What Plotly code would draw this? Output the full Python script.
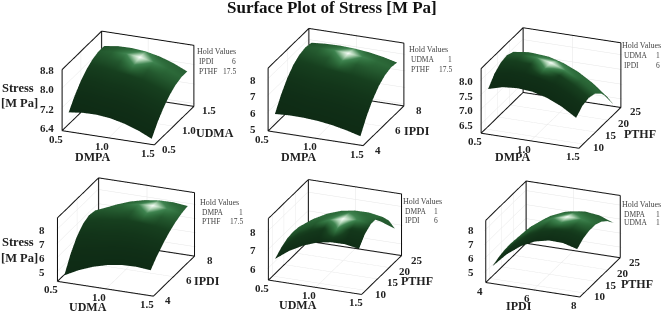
import plotly.graph_objects as go

W, H = 669, 314
DMPA = [0.55, 0.70, 0.85, 1.0, 1.15, 1.30, 1.45]
UDMA = [0.55, 0.70, 0.85, 1.0, 1.15, 1.30, 1.45]
IPDI = [4.2, 4.8, 5.4, 6.0, 6.6, 7.2, 7.8]
PTHF = [8.85, 11.4, 13.95, 16.5, 19.05, 21.6, 24.15]

Z1 = [[7.00, 7.07, 7.08, 7.02, 6.89, 6.70, 6.44],
      [7.44, 7.51, 7.52, 7.46, 7.34, 7.14, 6.89],
      [7.79, 7.87, 7.87, 7.82, 7.69, 7.50, 7.24],
      [8.05, 8.13, 8.14, 8.08, 7.96, 7.77, 7.51],
      [8.22, 8.30, 8.31, 8.26, 8.13, 7.95, 7.69],
      [8.31, 8.38, 8.40, 8.34, 8.22, 8.03, 7.78],
      [8.30, 8.38, 8.39, 8.34, 8.22, 8.03, 7.78]]
Z2 = [[5.85, 5.90, 5.89, 5.83, 5.71, 5.53, 5.30],
      [6.65, 6.71, 6.70, 6.64, 6.53, 6.36, 6.13],
      [7.28, 7.33, 7.33, 7.28, 7.17, 7.00, 6.78],
      [7.73, 7.79, 7.79, 7.74, 7.63, 7.47, 7.25],
      [7.99, 8.06, 8.07, 8.02, 7.92, 7.76, 7.54],
      [8.09, 8.16, 8.17, 8.12, 8.03, 7.87, 7.66],
      [8.00, 8.07, 8.09, 8.05, 7.96, 7.81, 7.60]]
Z3 = [[7.68, 7.82, 7.86, 7.82, 7.69, 7.47, 7.16],
      [7.99, 8.11, 8.14, 8.07, 7.93, 7.69, 7.36],
      [8.16, 8.26, 8.27, 8.19, 8.03, 7.77, 7.42],
      [8.21, 8.29, 8.28, 8.18, 7.99, 7.72, 7.36],
      [8.11, 8.18, 8.15, 8.03, 7.83, 7.54, 7.15],
      [7.89, 7.93, 7.89, 7.75, 7.53, 7.22, 6.82],
      [7.53, 7.56, 7.49, 7.34, 7.10, 6.77, 6.35]]
Z4 = [[4.70, 5.22, 5.62, 5.90, 6.06, 6.09, 6.00],
      [5.77, 6.21, 6.52, 6.71, 6.78, 6.73, 6.56],
      [6.56, 6.94, 7.20, 7.34, 7.36, 7.25, 7.02],
      [7.05, 7.41, 7.66, 7.78, 7.77, 7.65, 7.40],
      [7.26, 7.63, 7.89, 8.02, 8.03, 7.92, 7.69],
      [7.17, 7.60, 7.90, 8.08, 8.14, 8.08, 7.89],
      [6.80, 7.31, 7.69, 7.95, 8.09, 8.11, 8.00]]
Z5 = [[6.47, 7.01, 7.41, 7.69, 7.82, 7.83, 7.70],
      [6.75, 7.33, 7.76, 8.07, 8.24, 8.28, 8.18],
      [6.93, 7.51, 7.95, 8.27, 8.45, 8.50, 8.41],
      [6.99, 7.56, 7.99, 8.29, 8.46, 8.50, 8.40],
      [6.94, 7.47, 7.87, 8.14, 8.27, 8.28, 8.15],
      [6.77, 7.25, 7.60, 7.81, 7.89, 7.83, 7.65],
      [6.50, 6.90, 7.17, 7.30, 7.30, 7.17, 6.90]]
Z6 = [[5.35, 6.35, 7.09, 7.58, 7.81, 7.78, 7.50],
      [5.56, 6.58, 7.34, 7.85, 8.10, 8.10, 7.84],
      [5.68, 6.70, 7.47, 7.99, 8.25, 8.25, 7.99],
      [5.71, 6.73, 7.49, 7.99, 8.24, 8.24, 7.98],
      [5.65, 6.65, 7.38, 7.87, 8.09, 8.06, 7.78],
      [5.51, 6.46, 7.16, 7.60, 7.79, 7.73, 7.40],
      [5.27, 6.17, 6.82, 7.21, 7.35, 7.23, 6.85]]

ROWS_BACK = [0.05, 0.10, 0.18, 0.30, 0.45, 0.55, 0.50]
ROWS_RIDGE = [0.05, 0.12, 0.30, 0.50, 0.55, 0.50, 0.40]
ROWS_ARCH = [0.08, 0.20, 0.45, 0.55, 0.55, 0.50, 0.45]
COL_SHADE = [0.80, 0.90, 1.0, 1.0, 1.0, 1.0, 0.95]

panels = [
    dict(x=DMPA, y=UDMA, z=Z1, xr=[0.5, 1.5], yr=[0.5, 1.5], zr=[6.3, 8.8],
         xt=[0.5, 1.0, 1.5], yt=[0.5, 1.0, 1.5], zt=[6.4, 7.2, 8.0, 8.8], c=(128, 88), s=1.0,
         rows=ROWS_BACK, spot=(3, 5)),
    dict(x=DMPA, y=IPDI, z=Z2, xr=[0.5, 1.5], yr=[4, 8], zr=[4.9, 8.7],
         xt=[0.5, 1.0, 1.5], yt=[4, 6, 8], zt=[5, 6, 7, 8], c=(336, 87), s=1.03,
         rows=ROWS_BACK, spot=(3, 5)),
    dict(x=DMPA, y=PTHF, z=Z3, xr=[0.5, 1.5], yr=[8, 25], zr=[6.22, 8.42],
         xt=[0.5, 1.0, 1.5], yt=[10, 15, 20, 25], zt=[6.5, 7.0, 7.5, 8.0], c=(551, 88), s=1.06,
         rows=ROWS_RIDGE, spot=(3, 3)),
    dict(x=UDMA, y=IPDI, z=Z4, xr=[0.5, 1.5], yr=[4, 8], zr=[4.36, 8.86],
         xt=[0.5, 1.0, 1.5], yt=[4, 6, 8], zt=[5, 6, 7, 8], c=(126, 237), s=1.04,
         rows=ROWS_BACK, spot=(4, 5)),
    dict(x=UDMA, y=PTHF, z=Z5, xr=[0.5, 1.5], yr=[8, 25], zr=[5.4, 8.7],
         xt=[0.5, 1.0, 1.5], yt=[10, 15, 20, 25], zt=[6, 7, 8], c=(335, 237), s=1.01,
         rows=ROWS_ARCH, spot=(4, 2)),
    dict(x=IPDI, y=PTHF, z=Z6, xr=[4, 8], yr=[8, 25], zr=[4.27, 8.72],
         xt=[4, 6, 8], yt=[10, 15, 20, 25], zt=[5, 6, 7, 8], c=(553, 239), s=1.02,
         rows=ROWS_ARCH, spot=(4, 3)),
]

SERIF = "Liberation Serif"
SCALE = [[0, "#0d2713"], [0.3, "#17401f"], [0.55, "#2d6b3a"], [0.7, "#3f8450"],
         [0.85, "#a8cfae"], [1, "#fafffa"]]
SW, SH = 210, 150
ASPECT = dict(x=1.35, y=1.456, z=0.90)
EYE = dict(x=1.023, y=-2.571, z=1.161)
PAD = 0.01
SPOT_NEAR = 0.7
fig = go.Figure()


def box_edges(xr, yr, zr):
    x0, x1 = xr; y0, y1 = yr; z0, z1 = zr
    segs = [((x0, y0, z0), (x1, y0, z0)), ((x1, y0, z0), (x1, y1, z0)),
            ((x1, y1, z0), (x0, y1, z0)), ((x0, y1, z0), (x0, y0, z0)),
            ((x0, y0, z0), (x0, y0, z1)), ((x0, y1, z0), (x0, y1, z1)),
            ((x1, y1, z0), (x1, y1, z1)), ((x0, y0, z1), (x0, y1, z1)),
            ((x0, y1, z1), (x1, y1, z1))]
    X, Y, Z = [], [], []
    for a, b in segs:
        X += [a[0], b[0], None]; Y += [a[1], b[1], None]; Z += [a[2], b[2], None]
    return X, Y, Z


def padded(r):
    s = (r[1] - r[0]) * PAD
    return [r[0] - s, r[1] + s]


layout_scenes = {}
for i, p in enumerate(panels, 1):
    name = "scene" if i == 1 else f"scene{i}"
    x0, x1 = p["xr"]; y0, y1 = p["yr"]; z0, z1 = p["zr"]
    shade = [[r * c for c in COL_SHADE] for r in p["rows"]]
    si, sj = p["spot"]
    for di, dj in ((1, 0), (-1, 0), (0, 1), (0, -1)):
        shade[sj + dj][si + di] = SPOT_NEAR
    shade[sj][si] = 1.0
    fig.add_trace(go.Surface(
        x=p["x"], y=p["y"], z=p["z"], surfacecolor=shade, cmin=0, cmax=1,
        scene=name, showscale=False, hoverinfo="skip", colorscale=SCALE,
        lighting=dict(ambient=1.0, diffuse=0.0, specular=0.0, roughness=1.0, fresnel=0.0),
    ))
    X, Y, Z = box_edges(p["xr"], p["yr"], p["zr"])
    fig.add_trace(go.Scatter3d(x=X, y=Y, z=Z, mode="lines", scene=name, showlegend=False,
                               hoverinfo="skip", line=dict(color="#111111", width=2)))
    ax = dict(showbackground=False, showgrid=True, gridcolor="#e6e6e6", gridwidth=1,
              zeroline=False, showline=False, ticks="", title=dict(text=""), showspikes=False,
              showticklabels=False)
    cx, cy = p["c"]
    tick_notes = []
    tf = dict(family=SERIF, size=11, color="#222222")
    for v in p["xt"]:
        tick_notes.append(dict(x=v, y=y0, z=z0, text=f"<b>{v}</b>", showarrow=False,
                               xshift=-6, yshift=-8, font=tf))
    for v in p["yt"]:
        tick_notes.append(dict(x=x1, y=v, z=z0, text=f"<b>{v}</b>", showarrow=False,
                               xshift=15, yshift=-4, font=tf))
    for v in p["zt"]:
        tick_notes.append(dict(x=x0, y=y0, z=v, text=f"<b>{v}</b>", showarrow=False,
                               xshift=-15, yshift=0, font=tf))
    layout_scenes[name] = dict(
        xaxis=dict(ax, range=padded(p["xr"]), tickvals=p["xt"]),
        yaxis=dict(ax, range=padded(p["yr"]), tickvals=p["yt"]),
        zaxis=dict(ax, range=padded(p["zr"]), tickvals=p["zt"]),
        aspectmode="manual",
        aspectratio={k: v * p["s"] for k, v in ASPECT.items()},
        annotations=tick_notes,
        camera=dict(eye=EYE, center=dict(x=0, y=0, z=0),
                    up=dict(x=0, y=0, z=1), projection=dict(type="orthographic")),
        domain=dict(x=[(cx - SW / 2) / W, (cx + SW / 2) / W],
                    y=[1 - (cy + SH / 2) / H, 1 - (cy - SH / 2) / H]),
    )

notes = [
    ("Surface Plot of Stress [M Pa]", 332, 8, 17, True, "#111111", "center"),
    ("Stress", 0, 88, 12.5, True, "#222222", "left"),
    ("[M Pa]", -1, 103, 12.5, True, "#222222", "left"),
    ("Stress", 0, 242, 12.5, True, "#222222", "left"),
    ("[M Pa]", -1, 258, 12.5, True, "#222222", "left"),
    ("DMPA", 92, 157, 12, True, "#222222", "center"),
    ("UDMA", 215, 133, 12, True, "#222222", "center"),
    ("DMPA", 298, 157, 12, True, "#222222", "center"),
    ("IPDI", 417, 131, 12, True, "#222222", "center"),
    ("DMPA", 512, 157, 12, True, "#222222", "center"),
    ("PTHF", 640, 134, 12, True, "#222222", "center"),
    ("UDMA", 88, 307, 12, True, "#222222", "center"),
    ("IPDI", 207, 281, 12, True, "#222222", "center"),
    ("UDMA", 298, 305, 12, True, "#222222", "center"),
    ("PTHF", 417, 281, 12, True, "#222222", "center"),
    ("IPDI", 519, 306, 12, True, "#222222", "center"),
    ("PTHF", 637, 284, 12, True, "#222222", "center"),
]
holds = [
    (195, 52, "IPDI", "6", "PTHF", "17.5", 238),
    (407, 50, "UDMA", "1", "PTHF", "17.5", 454),
    (620, 46, "UDMA", "1", "IPDI", "6", 662),
    (198, 202, "DMPA", "1", "PTHF", "17.5", 245),
    (401, 201, "DMPA", "1", "IPDI", "6", 440),
    (620, 204, "DMPA", "1", "UDMA", "1", 662),
]
for x, y, a, av, b, bv, xr in holds:
    notes += [("Hold Values", x, y, 8, False, "#444444", "left"),
              (a, x + 2, y + 10, 7.5, False, "#444444", "left"),
              (av, xr, y + 10, 7.5, False, "#444444", "right"),
              (b, x + 2, y + 19, 7.5, False, "#444444", "left"),
              (bv, xr, y + 19, 7.5, False, "#444444", "right")]

annotations = [dict(text=f"<b>{t}</b>" if bold else t, x=x / W, y=1 - y / H, xref="paper", yref="paper",
                    xanchor=anc, yanchor="middle", showarrow=False,
                    font=dict(family=SERIF, size=s, color=c))
               for t, x, y, s, bold, c, anc in notes]

fig.update_layout(width=W, height=H, margin=dict(l=0, r=0, t=0, b=0), paper_bgcolor="white",
                  showlegend=False, annotations=annotations, **layout_scenes)
fig.write_html("out.html", config={"displayModeBar": False},
               post_script="document.body.style.margin='0';")
